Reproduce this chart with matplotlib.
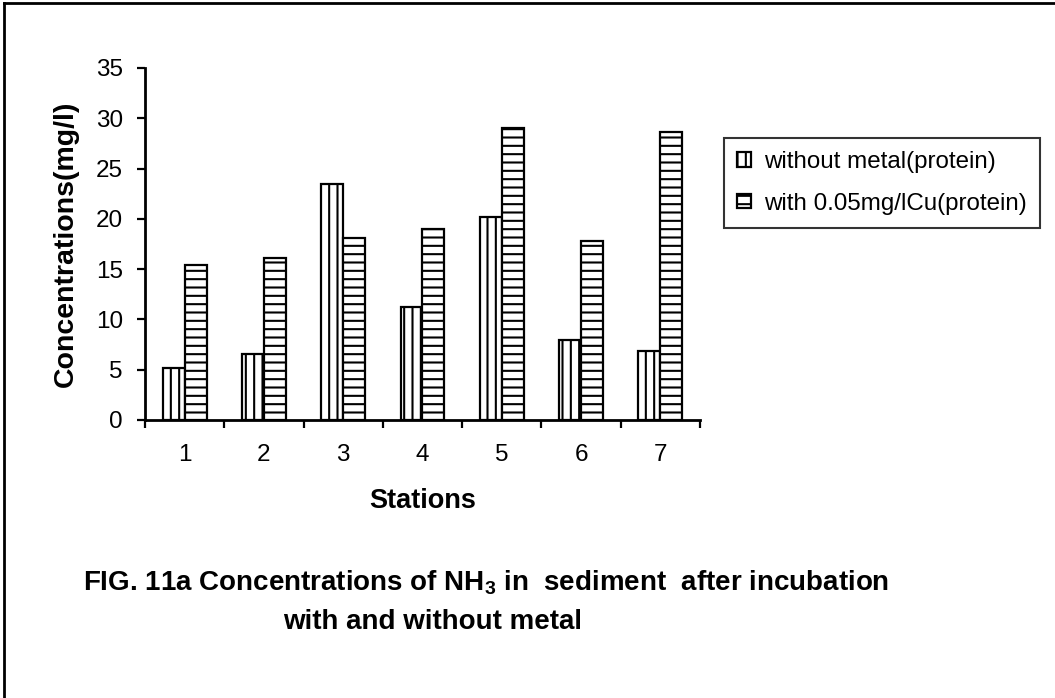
import matplotlib
matplotlib.use('Agg')
import matplotlib.pyplot as plt
from matplotlib.lines import Line2D
import numpy as np

plt.rcParams['font.family'] = ['Liberation Sans', 'DejaVu Sans']
plt.rcParams['mathtext.fontset'] = 'custom'
plt.rcParams['mathtext.rm'] = 'Liberation Sans'
plt.rcParams['mathtext.bf'] = 'Liberation Sans:bold'
plt.rcParams['hatch.linewidth'] = 1.5

# NH3 concentrations per station (mg/l)
stations = ['1', '2', '3', '4', '5', '6', '7']
without_metal = [5.2, 6.6, 23.5, 11.2, 20.2, 8.0, 6.9]
with_cu = [15.4, 16.1, 18.1, 19.0, 29.0, 17.8, 28.6]
labels = ['without metal(protein)', 'with 0.05mg/lCu(protein)']

fig = plt.figure(figsize=(10.55, 6.98), dpi=100)
ax = fig.add_axes([145/1055, 1-420/698, 555/1055, 352/698])

x = np.arange(1, len(stations) + 1)
w = 0.277
ax.bar(x - w/2, without_metal, w, color='white', edgecolor='black',
       linewidth=1.6, hatch='||', label=labels[0])
ax.bar(x + w/2, with_cu, w, color='white', edgecolor='black',
       linewidth=1.6, hatch='--', label=labels[1])

ax.set_xlim(0.5, 7.5)
ax.set_ylim(0, 35)
ax.set_yticks(range(0, 36, 5))
ax.set_xticks(np.arange(0.5, 8, 1))
ax.set_xticklabels([])
ax.set_xticks(x, minor=True)
ax.set_xticklabels(stations, minor=True)
ax.tick_params(axis='x', which='minor', length=0, labelsize=17.5, pad=17)
ax.tick_params(axis='x', which='major', length=6, width=1.6, direction='out')
ax.tick_params(axis='y', length=6, width=1.6, direction='out', labelsize=17.5, pad=10)
for s in ['top', 'right']:
    ax.spines[s].set_visible(False)
for s in ['left', 'bottom']:
    ax.spines[s].set_linewidth(2)

ax.set_ylabel('Concentrations(mg/l)', fontsize=20.5, fontweight='bold', labelpad=12)
ax.set_xlabel('Stations', fontsize=19.5, fontweight='bold', labelpad=16)

leg = fig.legend(loc='upper left', bbox_to_anchor=(724/1055, 1-138/698),
                 fontsize=17.4, frameon=True, fancybox=False, edgecolor='black',
                 handlelength=0.55, handleheight=0.55, handletextpad=0.55,
                 borderpad=0.55, labelspacing=0.8, borderaxespad=0)
leg.get_frame().set_linewidth(1.5)

fig.text(83/1055, 1-583/698,
         r'FIG. 11a Concentrations of NH$_\mathbf{3}$ in  sediment  after incubation',
         fontsize=20, fontweight='bold', ha='left', va='center')
fig.text(433/1055, 1-622/698, 'with and without metal',
         fontsize=20, fontweight='bold', ha='center', va='center')

# page frame, only left and top edges fall inside the image
fig.add_artist(Line2D([4/1055, 4/1055], [0, 1-3/698], color='black', lw=2))
fig.add_artist(Line2D([4/1055, 1], [1-3/698, 1-3/698], color='black', lw=2))

fig.savefig('out.png', dpi=100)
